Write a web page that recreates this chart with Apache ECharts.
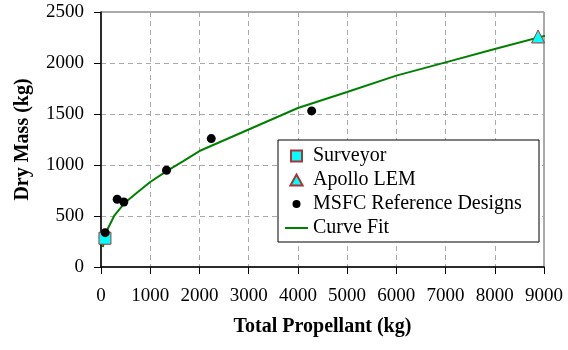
<!DOCTYPE html>
<html lang="en">
<head>
    <meta charset="UTF-8">
    <title>Dry Mass vs Total Propellant</title>
    <style>
        body{ margin:0; background:#fff; }
        .container{ width:568px; height:350px; }
    </style>
    <script src="https://cdn.jsdelivr.net/npm/echarts@6/dist/echarts.min.js"></script>
</head>
<body>
    <div class="container"></div>
    <script>
        // values
        const surveyorX = [80];
        const surveyorY = [282];
        const apolloX = [8880];
        const apolloY = [2260];
        const msfcX = [85, 329, 464, 1331, 2240, 4280];
        const msfcY = [337, 664, 637, 948, 1259, 1530];
        const fitX = [37, 105, 274, 478, 748, 1000, 1325, 1663, 2000, 3000, 4000, 5000, 6000, 7000, 8000, 9180];
        const fitY = [196, 343, 507, 627, 735, 833, 938, 1036, 1137, 1348, 1559, 1715, 1876, 2006, 2137, 2288];

        const pairs = (xs, ys) => xs.map((x, i) => [x, ys[i]]);
        const serif = '"Liberation Serif", "Times New Roman", serif';

        const chart = echarts.init(document.getElementsByClassName('container')[0]);
        chart.setOption({
            backgroundColor: '#fff',
            animation: false,
            grid: {
                left: 101, right: 24, top: 12, bottom: 83,
                show: true, borderColor: '#555', borderWidth: 1,
                outerBoundsMode: 'none'
            },
            legend: {
                orient: 'vertical',
                left: 278, top: 140,
                padding: [6, 8, 4, 7],
                backgroundColor: '#fff',
                borderColor: '#000',
                borderWidth: 1,
                itemWidth: 23, itemHeight: 11, itemGap: 4,
                textStyle: { fontFamily: serif, fontSize: 20, color: '#000', lineHeight: 20, width: 218 },
                data: [
                    { name: 'Surveyor', icon: 'path://M0,0H10V10H0Z' },
                    { name: 'Apollo LEM', icon: 'path://M5,0L10,9L0,9Z' },
                    { name: 'MSFC Reference Designs', icon: 'path://M0,0M11,11M5.5,1.5A4,4,0,1,1,5.5,9.5A4,4,0,1,1,5.5,1.5Z' },
                    { name: 'Curve Fit', icon: 'path://M0,0H23V2H0Z' }
                ]
            },
            xAxis: {
                type: 'value', min: 0, max: 9000, interval: 1000,
                name: 'Total Propellant (kg)', nameLocation: 'middle', nameGap: 50,
                nameTextStyle: { fontFamily: serif, fontSize: 20, fontWeight: 'bold', color: '#000' },
                axisLine: { lineStyle: { color: '#000', width: 1.5 } },
                axisTick: { show: true, length: 7, lineStyle: { color: '#000' } },
                axisLabel: { fontFamily: serif, fontSize: 19, color: '#000', margin: 20, formatter: v => String(v) },
                splitLine: { show: true, lineStyle: { color: '#aaa', type: [5, 4] } }
            },
            yAxis: {
                type: 'value', min: 0, max: 2500, interval: 500,
                name: 'Dry Mass (kg)', nameLocation: 'middle', nameGap: 68,
                nameTextStyle: { fontFamily: serif, fontSize: 20, fontWeight: 'bold', color: '#000' },
                axisLine: { show: true, lineStyle: { color: '#000', width: 1.5 } },
                axisTick: { show: true, length: 7, lineStyle: { color: '#000' } },
                axisLabel: { fontFamily: serif, fontSize: 19, color: '#000', margin: 17, formatter: v => String(v) },
                splitLine: { show: true, lineStyle: { color: '#aaa', type: [5, 4] } }
            },
            series: [
                {
                    name: 'Curve Fit', type: 'line', data: pairs(fitX, fitY),
                    symbol: 'none', clip: false, z: 1,
                    lineStyle: { color: '#008000', width: 2 },
                    itemStyle: { color: '#008000' }
                },
                {
                    name: 'Surveyor', type: 'scatter', data: pairs(surveyorX, surveyorY),
                    symbol: 'rect', symbolSize: 12, z: 3,
                    itemStyle: { color: '#00FFFF', borderColor: '#A33', borderWidth: 1, opacity: 1 }
                },
                {
                    name: 'Apollo LEM', type: 'scatter', data: pairs(apolloX, apolloY),
                    symbol: 'triangle', symbolSize: 13, z: 3,
                    itemStyle: { color: '#00FFFF', borderColor: '#A33', borderWidth: 1, opacity: 1 }
                },
                {
                    name: 'MSFC Reference Designs', type: 'scatter', data: pairs(msfcX, msfcY),
                    symbol: 'circle', symbolSize: 9, z: 4,
                    itemStyle: { color: '#000', opacity: 1 }
                }
            ]
        });
    </script>
</body>
</html>
